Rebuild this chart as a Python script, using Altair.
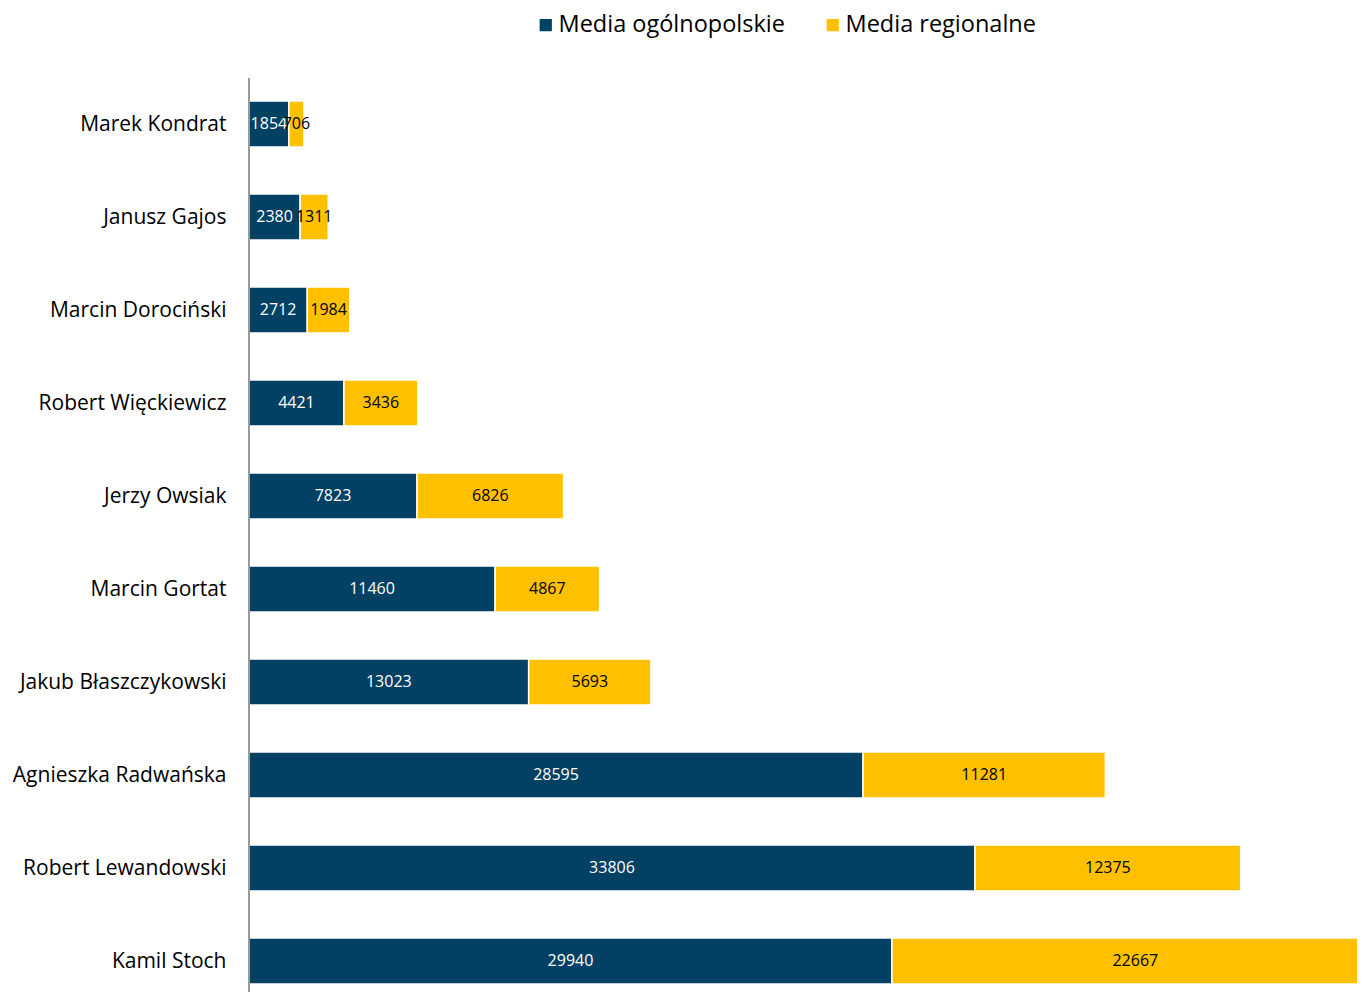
import altair as alt
import pandas as pd

names = ["Marek Kondrat", "Janusz Gajos", "Marcin Dorociński", "Robert Więckiewicz",
         "Jerzy Owsiak", "Marcin Gortat", "Jakub Błaszczykowski", "Agnieszka Radwańska",
         "Robert Lewandowski", "Kamil Stoch"]
national = [1854, 2380, 2712, 4421, 7823, 11460, 13023, 28595, 33806, 29940]
regional = [706, 1311, 1984, 3436, 6826, 4867, 5693, 11281, 12375, 22667]
series = ["Media ogólnopolskie", "Media regionalne"]
colors = ["#024163", "#FFC000"]

rows = []
for n, a, b in zip(names, national, regional):
    rows.append({"name": n, "series": series[0], "value": a, "ord": 0})
    rows.append({"name": n, "series": series[1], "value": b, "ord": 1})
df = pd.DataFrame(rows)

FONT = "Open Sans"

base = alt.Chart(df).transform_stack(
    stack="value", groupby=["name"], sort=[alt.SortField("ord")], as_=["x0", "x1"]
).transform_calculate(mid="(datum.x0 + datum.x1) / 2")

yenc = alt.Y("name:N", sort=names,
             scale=alt.Scale(type="point", range=[46, 883], padding=0),
             axis=alt.Axis(title=None, ticks=False, tickSize=0, labelPadding=23,
                           labelFontSize=21, labelFont=FONT, labelColor="#000000",
                           labelLimit=0, domain=False, grid=False))
xscale = alt.Scale(domain=[0, 51595], nice=False, zero=True)

bars = base.mark_bar(size=46, clip=True, stroke="white", strokeWidth=1.5).encode(
    x=alt.X("x0:Q", scale=xscale, axis=None),
    x2="x1:Q",
    y=yenc,
    color=alt.Color("series:N", scale=alt.Scale(domain=series, range=colors),
                    legend=alt.Legend(title=None, orient="none", direction="horizontal",
                                      legendX=285, legendY=-65, symbolType="square",
                                      symbolSize=150, symbolStrokeWidth=0,
                                      labelFontSize=23.5, labelFont=FONT, labelColor="#000000",
                                      labelLimit=0, labelOffset=1, columnPadding=36,
                                      padding=0)),
)

labels = base.mark_text(fontSize=16, font=FONT, baseline="middle", align="center").encode(
    x=alt.X("mid:Q", scale=xscale, axis=None),
    y=yenc,
    text=alt.Text("value:Q", format="d"),
    color=alt.condition("datum.ord == 0", alt.value("white"), alt.value("black")),
)

axis_line = alt.Chart(df).mark_rule(color="#9a9a9a", strokeWidth=2).encode(
    x=alt.value(0), y=alt.value(0), y2=alt.value(914)
)

chart = alt.layer(bars, labels, axis_line).properties(
    width=1108, height=914,
    autosize=alt.AutoSizeParams(type="none"),
    padding={"left": 241, "top": 70, "right": 0, "bottom": 0},
).configure(background="white").configure_view(strokeWidth=0, stroke="transparent")

chart.save("out.html", embed_options={"renderer": "svg", "actions": False})
